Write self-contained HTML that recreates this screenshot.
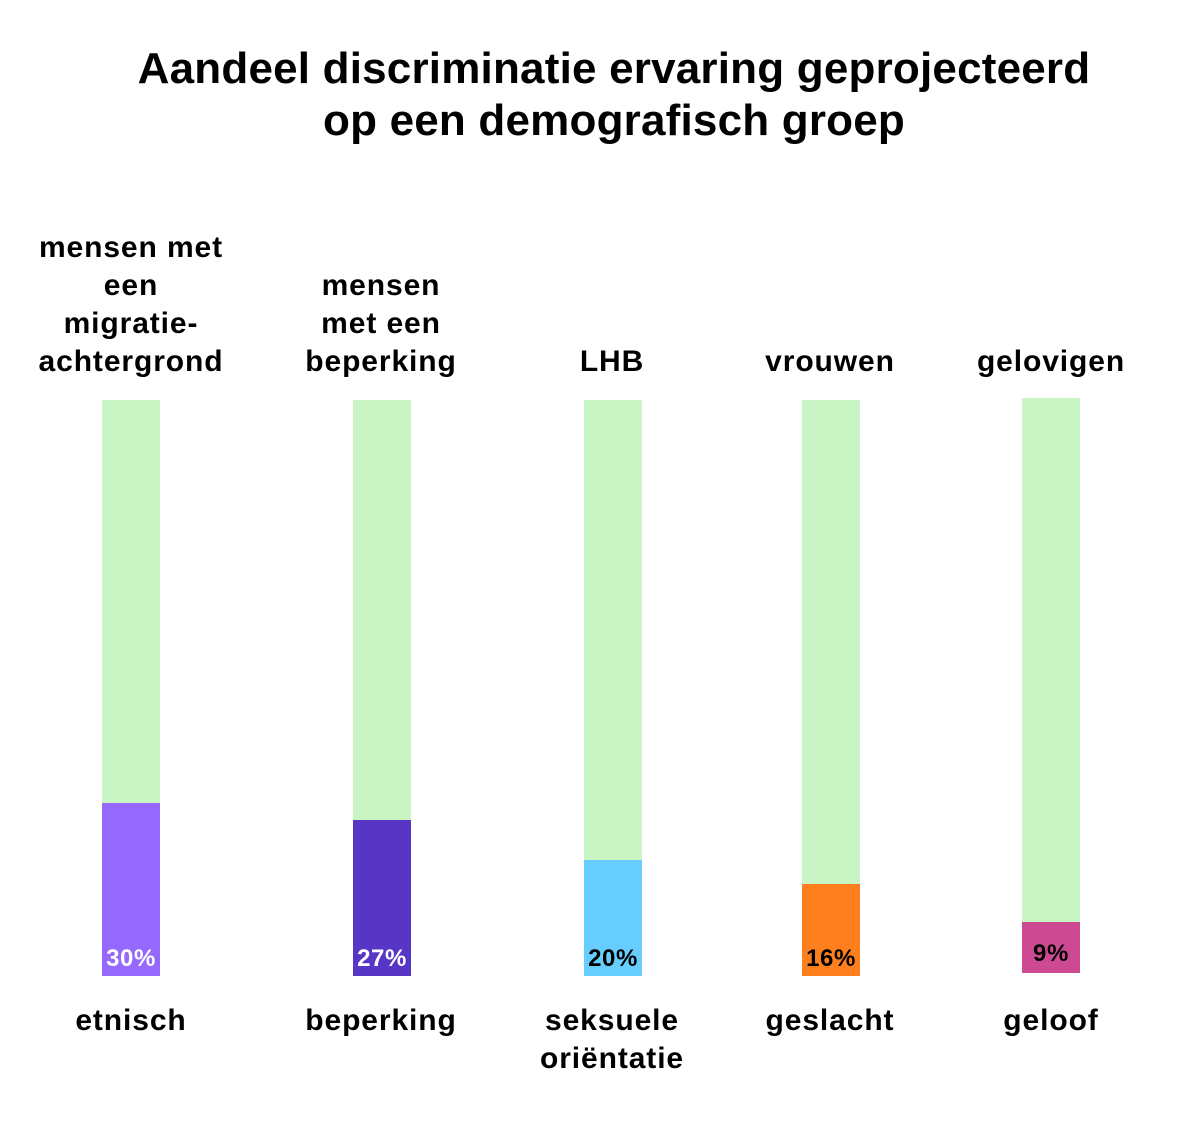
<!DOCTYPE html>
<html><head><style>
body{margin:0;width:1200px;height:1148px;background:#fff;font-family:"Liberation Sans",sans-serif;font-weight:bold;color:#000;position:relative;overflow:hidden}
.t{position:absolute;left:0;width:1228px;text-align:center;font-size:44px;letter-spacing:0.2px;line-height:52px;top:43px}
.l{position:absolute;width:280px;text-align:center;font-size:30px;letter-spacing:0.9px;line-height:38px}
.b{position:absolute;width:58px;background:#c9f5c4}
.c{position:absolute;left:0;right:0;bottom:0}
.p{position:absolute;left:-5px;right:-5px;bottom:3px;text-align:center;font-size:24px;letter-spacing:0.6px}
</style></head><body>
<div class="t">Aandeel discriminatie ervaring geprojecteerd<br>op een demografisch groep</div>

<div class="l" style="left:-9px;bottom:767px">mensen met<br>een<br>migratie-<br>achtergrond</div>
<div class="l" style="left:241px;bottom:767px">mensen<br>met een<br>beperking</div>
<div class="l" style="left:472px;bottom:767px">LHB</div>
<div class="l" style="left:690px;bottom:767px">vrouwen</div>
<div class="l" style="left:911px;bottom:767px">gelovigen</div>

<div class="b" style="left:102px;top:400px;height:576px"><div class="c" style="top:403px;background:#9669fe"></div><div class="p" style="color:#fff">30%</div></div>
<div class="b" style="left:353px;top:400px;height:576px"><div class="c" style="top:420px;background:#5735c5"></div><div class="p" style="color:#fff">27%</div></div>
<div class="b" style="left:584px;top:400px;height:576px"><div class="c" style="top:460px;background:#66cdfe"></div><div class="p">20%</div></div>
<div class="b" style="left:802px;top:400px;height:576px"><div class="c" style="top:484px;background:#fe7f1d"></div><div class="p">16%</div></div>
<div class="b" style="left:1022px;top:398px;height:575px"><div class="c" style="top:524px;background:#cd4a92"></div><div class="p" style="bottom:5px">9%</div></div>

<div class="l" style="left:-9px;top:1002px">etnisch</div>
<div class="l" style="left:241px;top:1002px">beperking</div>
<div class="l" style="left:472px;top:1002px">seksuele<br>oriëntatie</div>
<div class="l" style="left:690px;top:1002px">geslacht</div>
<div class="l" style="left:911px;top:1002px">geloof</div>
</body></html>
